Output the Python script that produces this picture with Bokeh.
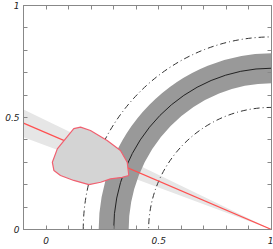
from bokeh.plotting import figure
from bokeh.models import LinearAxis, FixedTicker, Range1d
from bokeh.embed import file_html
from bokeh.resources import INLINE

# ---- data ----
tick_values = [0.0, 0.1, 0.2, 0.3, 0.4, 0.5, 0.6, 0.7, 0.8, 0.9, 1.0]
tick_labels = {0.0: "0", 0.5: "0.5", 1.0: "1"}

arc_cx, arc_cy = [1.0], [0.0]
band_rx, band_ry = [0.70], [0.72]
inner_rx, inner_ry = [0.545], [0.545]
outer_rx, outer_ry = [0.835], [0.86]

wedge_x = [-0.1, 1.0, -0.1]
wedge_y = [0.536, 0.0, 0.412]

line_x = [-0.1, 1.0]
line_y = [0.475, 0.0]

blob_x = [0.123, 0.153, 0.197, 0.271, 0.330, 0.360, 0.367, 0.338, 0.286, 0.242,
          0.190, 0.123, 0.064, 0.035, 0.028, 0.050, 0.086]
blob_y = [0.450, 0.457, 0.442, 0.397, 0.353, 0.300, 0.241, 0.233, 0.226, 0.211,
          0.200, 0.219, 0.241, 0.263, 0.300, 0.360, 0.405]

# ---- figure ----
p = figure(width=273, height=249, output_backend="svg", toolbar_location=None,
           x_range=Range1d(-0.1, 1.0), y_range=Range1d(0.0, 1.0),
           min_border_left=23, min_border_right=2, min_border_top=5, min_border_bottom=20,
           x_axis_location=None, y_axis_location=None)
p.title.visible = False
p.grid.visible = False
p.outline_line_color = "#888888"
p.background_fill_color = "white"
p.border_fill_color = "white"

def make_axis(show_labels, standoff):
    ax = LinearAxis(ticker=FixedTicker(ticks=tick_values))
    ax.axis_line_color = "#888888"
    ax.major_tick_line_color = "#888888"
    ax.major_tick_in = 4
    ax.major_tick_out = 0
    ax.minor_tick_line_color = None
    ax.major_label_text_font = "DejaVu Sans"
    ax.major_label_text_font_style = "italic"
    ax.major_label_text_color = "#222222"
    ax.major_label_standoff = standoff
    if show_labels:
        ax.major_label_overrides = {t: tick_labels.get(t, "") for t in tick_values}
        ax.major_label_text_font_size = "9px"
    else:
        ax.major_label_overrides = {t: "" for t in tick_values}
        ax.major_label_text_font_size = "1px"
    return ax

p.add_layout(make_axis(True, 7), "below")
p.add_layout(make_axis(True, 4), "left")
p.add_layout(make_axis(False, 0), "above")
p.add_layout(make_axis(False, 0), "right")

# wedge around red line
p.patch(wedge_x, wedge_y, fill_color="#e6e6e6", line_color=None)

# gray band (thick elliptical arc)
p.ellipse(x=arc_cx, y=arc_cy, width=[2 * v for v in band_rx], height=[2 * v for v in band_ry],
          fill_color=None, line_color="#999999", line_width=30)

# dash-dot bounds
p.ellipse(x=arc_cx, y=arc_cy, width=[2 * v for v in outer_rx], height=[2 * v for v in outer_ry],
          fill_color=None, line_color="#333333", line_width=1, line_dash="6 3 1 3")
p.ellipse(x=arc_cx, y=arc_cy, width=[2 * v for v in inner_rx], height=[2 * v for v in inner_ry],
          fill_color=None, line_color="#333333", line_width=1, line_dash="6 3 1 3")

# center line
p.ellipse(x=arc_cx, y=arc_cy, width=[2 * v for v in band_rx], height=[2 * v for v in band_ry],
          fill_color=None, line_color="#222222", line_width=1)

# red line
p.line(line_x, line_y, line_color="#ff5050", line_width=1.2)

# blob
p.patch(blob_x, blob_y, fill_color="#d4d4d4", line_color="#f06070", line_width=1.2)

open("out.html", "w").write(file_html(p, INLINE))
